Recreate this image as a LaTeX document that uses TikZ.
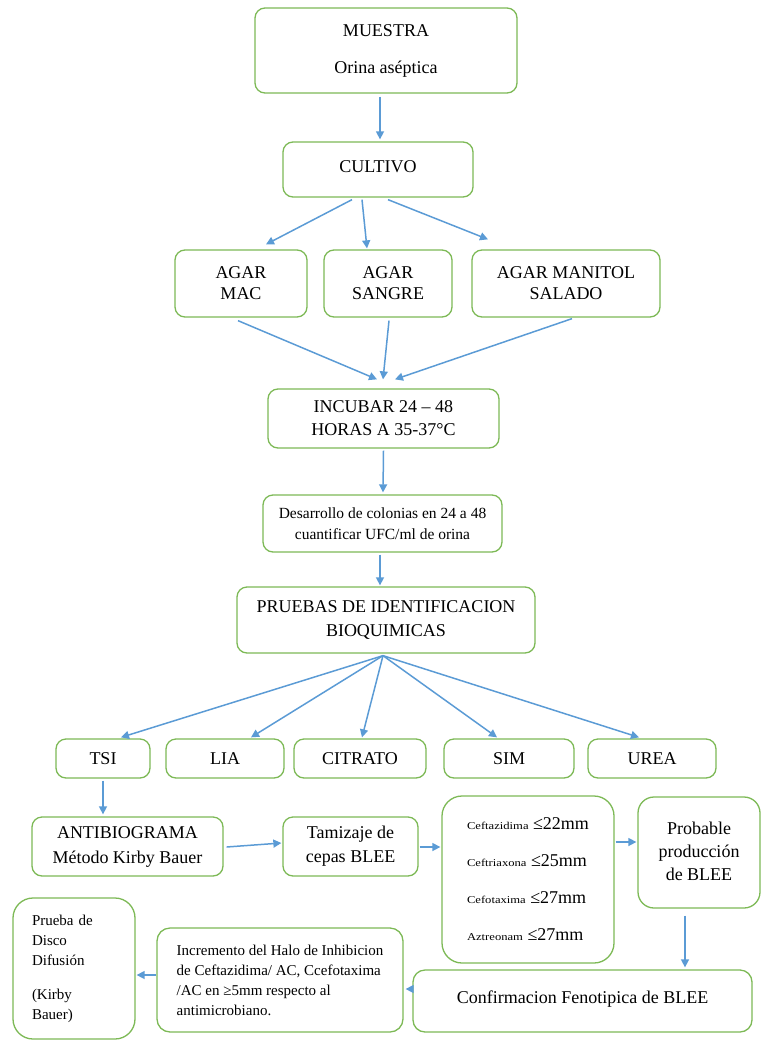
\documentclass[tikz,border=0pt]{standalone}
\usepackage{fontspec}
\setmainfont{Liberation Serif}
\newfontfamily\widefont{Liberation Serif}[FakeStretch=1.2]
\usetikzlibrary{arrows.meta,calc}
\definecolor{boxgreen}{HTML}{7DB956}
\definecolor{arrowblue}{HTML}{5B9BD5}
\tikzset{
  box/.style={draw=boxgreen, line width=1.3pt, rounded corners=10pt, inner sep=0pt,
              align=center, text=black, font=\fontsize{18}{23}\selectfont},
  arr/.style={draw=arrowblue, line width=1.5pt, -{Triangle[length=8pt,width=8pt]}},
  small/.style={font=\fontsize{15.5}{21}\selectfont},
  note/.style={font=\fontsize{15}{20}\selectfont},
}
\newcommand{\drug}[1]{{\widefont\fontsize{10.5}{12}\selectfont #1}}
\begin{document}
\begin{tikzpicture}[x=1pt,y=-1pt]
\useasboundingbox (0,0) rectangle (762,1041);

% boxes
\node[box, minimum width=262pt, minimum height=85pt] (muestra) at (386,50.5) {MUESTRA\\[14pt]Orina aséptica};
\node[box, minimum width=190pt, minimum height=55pt] (cultivo) at (378,169.5) {\raisebox{6pt}{CULTIVO}};
\node[box, font=\fontsize{18}{21}\selectfont, minimum width=132pt, minimum height=67pt] (mac) at (241,283.5) {AGAR\\MAC};
\node[box, font=\fontsize{18}{21}\selectfont, minimum width=128pt, minimum height=67pt] (sangre) at (388,283.5) {AGAR\\SANGRE};
\node[box, font=\fontsize{18}{21}\selectfont, minimum width=188pt, minimum height=67pt] (manitol) at (566,283.5) {AGAR MANITOL\\SALADO};
\node[box, minimum width=231pt, minimum height=59pt] (incubar) at (383.5,418.5) {INCUBAR 24 – 48\\HORAS A 35-37°C};
\node[box, small, minimum width=239pt, minimum height=57pt] (desarrollo) at (382.5,523.5) {Desarrollo de colonias en 24 a 48\\cuantificar UFC/ml de orina};
\node[box, font=\fontsize{18}{24}\selectfont, minimum width=298pt, minimum height=66pt] (pruebas) at (386,620) {PRUEBAS DE IDENTIFICACION\\BIOQUIMICAS};

\node[box, minimum width=94pt, minimum height=39pt] (tsi) at (103,758.5) {TSI};
\node[box, minimum width=118pt, minimum height=39pt] (lia) at (225,758.5) {LIA};
\node[box, minimum width=132pt, minimum height=39pt] (citrato) at (360,758.5) {CITRATO};
\node[box, minimum width=130pt, minimum height=39pt] (sim) at (509,758.5) {SIM};
\node[box, minimum width=128pt, minimum height=39pt] (urea) at (652,758.5) {UREA};

\node[box, font=\fontsize{18}{25}\selectfont, minimum width=191pt, minimum height=59pt] (antib) at (127.5,846.5) {ANTIBIOGRAMA\\Método Kirby Bauer};
\node[box, font=\fontsize{18}{24}\selectfont, minimum width=135pt, minimum height=59pt] (tamiz) at (350.5,846.5) {Tamizaje de\\cepas BLEE};
\node[box, rounded corners=20pt, align=left, font=\fontsize{18}{21}\selectfont, minimum width=172pt, minimum height=167pt] (cefta) at (528,879.5)
  {\drug{Ceftazidima} ≤22mm\\[16pt]\drug{Ceftriaxona} ≤25mm\\[16pt]\drug{Cefotaxima} ≤27mm\\[16pt]\drug{Aztreonam} ≤27mm};
\node[box, rounded corners=16pt, minimum width=122pt, minimum height=111pt] (probable) at (699,852.5)
  {\raisebox{6pt}{\begin{tabular}{@{}c@{}}Probable\\producción\\de BLEE\end{tabular}}};
\node[box, rounded corners=12pt, minimum width=339pt, minimum height=62pt] (confirm) at (582.5,1001) {\raisebox{8pt}{Confirmacion Fenotipica de BLEE}};
\node[box, note, rounded corners=13pt, align=left, minimum width=246pt, minimum height=104pt] (increm) at (280,980)
  {Incremento del Halo de Inhibicion\\de Ceftazidima/ AC, Ccefotaxima\\/AC en ≥5mm respecto al\\antimicrobiano.};
\node[box, note, rounded corners=20pt, align=left, text width=84pt, minimum width=122pt, minimum height=141pt] (prueba) at (74,968.5)
  {Prueba de\\Disco\\Difusión\\[14pt](Kirby\\Bauer)};

% connectors
\draw[arr] ($(muestra.south)+(-6,3)$) -- ($(cultivo.north)+(2,-2)$);
\draw[arr] ($(cultivo.south)+(-26,2)$) -- ($(mac.north)+(25,-5)$);
\draw[arr] ($(cultivo.south)+(-16,2)$) -- ($(sangre.north)+(-21,-1)$);
\draw[arr] ($(cultivo.south)+(10,2)$) -- ($(manitol.north)+(-78,-10)$);
\draw[arr] ($(mac.south)+(-3,3)$) -- ($(incubar.north)+(-6.5,-9)$);
\draw[arr] ($(sangre.south)+(1,3)$) -- ($(incubar.north)+(-0.5,-9)$);
\draw[arr] ($(manitol.south)+(6,1)$) -- ($(incubar.north)+(11.5,-9)$);
\draw[arr] ($(incubar.south)+(0,2)$) -- ($(desarrollo.north)+(0.5,-2)$);
\draw[arr] ($(desarrollo.south)+(-2.5,2)$) -- ($(pruebas.north)+(-6,-1)$);
\draw[arr] ($(pruebas.south)+(-3,2)$) -- ($(tsi.north)+(18,-1)$);
\draw[arr] ($(pruebas.south)+(-3,2)$) -- ($(lia.north)+(26,-1)$);
\draw[arr] ($(pruebas.south)+(-3,2)$) -- ($(citrato.north)+(2,-1)$);
\draw[arr] ($(pruebas.south)+(-3,2)$) -- ($(sim.north)+(-12,-1)$);
\draw[arr] ($(pruebas.south)+(-3,2)$) -- ($(urea.north)+(-13,-1)$);
\draw[arr] ($(tsi.south)+(0,2)$) -- ($(antib.north)+(-24.5,-2)$);
\draw[arr] ($(antib.east)+(3,0.5)$) -- ($(tamiz.west)+(-1,-3.5)$);
\draw[arr] ($(tamiz.east)+(1,0.5)$) -- ($(cefta.west)+(-1,-32.5)$);
\draw[arr] ($(cefta.east)+(1,-37.5)$) -- ($(probable.west)+(-1,-10.5)$);
\draw[arr] ($(probable.south)+(-14,7)$) -- ($(confirm.north)+(102.5,-2)$);
\draw[arr] ($(confirm.west)+(0,-12)$) -- ($(increm.east)+(2,9)$);
\draw[arr] ($(increm.west)+(0,-5)$) -- ($(prueba.east)+(1,6.5)$);
\end{tikzpicture}
\end{document}
